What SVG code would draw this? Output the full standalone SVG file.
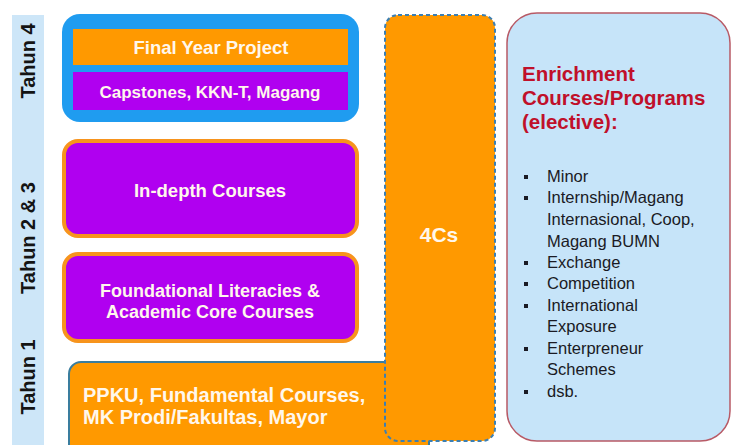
<svg xmlns="http://www.w3.org/2000/svg" width="733" height="445" viewBox="0 0 733 445">
  <style>
    .lbl { font-family: "Liberation Sans", Arial, sans-serif; font-weight: bold; font-size: 20px; fill: #141414; text-anchor: middle; }
    .wt { font-family: "Liberation Sans", Arial, sans-serif; font-weight: bold; fill: #fff7ec; text-anchor: middle; }
    .left { text-anchor: start; }
    .purple { fill: #b000f0; stroke: #f7941d; stroke-width: 4; }
    .orange { fill: #ff9900; }
    .head { font-family: "Liberation Sans", Arial, sans-serif; font-weight: bold; font-size: 20.5px; fill: #c0102a; }
    .item { font-family: "Liberation Sans", Arial, sans-serif; font-size: 16.5px; fill: #1a1a24; }
    .dot { fill: #1a1a24; }
  </style>

  <rect width="733" height="445" fill="#ffffff"/>

  <!-- year labels strip -->
  <g id="year-labels">
    <rect x="12" y="15" width="32" height="440" fill="#cde6f8"/>
    <text class="lbl" transform="translate(35,61) rotate(-90)">Tahun 4</text>
    <text class="lbl" transform="translate(35,238) rotate(-90)">Tahun 2 &amp; 3</text>
    <text class="lbl" transform="translate(35,377) rotate(-90)">Tahun 1</text>
  </g>

  <!-- year 4 block -->
  <g id="tahun4">
    <rect x="62" y="14" width="297" height="108" rx="18" fill="#1f9cf0"/>
    <rect x="73" y="29" width="275" height="36" class="orange"/>
    <text class="wt" x="211" y="54" font-size="18.5">Final Year Project</text>
    <rect x="73" y="72" width="275" height="38" fill="#b000f0"/>
    <text class="wt" x="210" y="98" font-size="17">Capstones, KKN-T, Magang</text>
  </g>

  <!-- year 2 & 3 blocks -->
  <g id="in-depth">
    <rect x="64" y="141" width="293" height="95" rx="14" class="purple"/>
    <text class="wt" x="210" y="197" font-size="18.5">In-depth  Courses</text>
  </g>
  <g id="foundational">
    <rect x="64" y="254" width="293" height="87" rx="14" class="purple"/>
    <text class="wt" x="210" y="297" font-size="18">Foundational Literacies &amp;</text>
    <text class="wt" x="210" y="318" font-size="18">Academic Core Courses</text>
  </g>

  <!-- year 1 block, joined to the 4Cs column -->
  <g id="tahun1">
    <rect x="69" y="362" width="360" height="100" rx="12" class="orange" stroke="#3a7d9e" stroke-width="2"/>
    <text class="wt left" x="83" y="402" font-size="20">PPKU, Fundamental Courses,</text>
    <text class="wt left" x="83" y="424" font-size="20">MK Prodi/Fakultas, Mayor</text>
  </g>

  <!-- 4Cs column -->
  <g id="four-cs">
    <rect x="385" y="15" width="110" height="426" rx="13" class="orange" stroke="#3b7fb3" stroke-width="2" stroke-dasharray="4 3"/>
    <text class="wt" x="439" y="242" font-size="21">4Cs</text>
  </g>

  <!-- enrichment panel -->
  <g id="enrichment">
    <rect x="507" y="13" width="223" height="428" rx="30" fill="#c6e4f9" stroke="#b85a66" stroke-width="1.5"/>
    <text class="head" x="522" y="81">Enrichment</text>
    <text class="head" x="522" y="105">Courses/Programs</text>
    <text class="head" x="522" y="129">(elective):</text>
    <g class="dot">
      <rect x="524" y="175" width="4" height="4"/>
      <rect x="524" y="196" width="4" height="4"/>
      <rect x="524" y="261" width="4" height="4"/>
      <rect x="524" y="282" width="4" height="4"/>
      <rect x="524" y="304" width="4" height="4"/>
      <rect x="524" y="347" width="4" height="4"/>
      <rect x="524" y="390" width="4" height="4"/>
    </g>
    <g class="item">
      <text x="547" y="182">Minor</text>
      <text x="547" y="203">Internship/Magang</text>
      <text x="547" y="225">Internasional, Coop,</text>
      <text x="547" y="247">Magang BUMN</text>
      <text x="547" y="268">Exchange</text>
      <text x="547" y="289">Competition</text>
      <text x="547" y="311">International</text>
      <text x="547" y="332">Exposure</text>
      <text x="547" y="354">Enterpreneur</text>
      <text x="547" y="375">Schemes</text>
      <text x="547" y="397">dsb.</text>
    </g>
  </g>
</svg>
